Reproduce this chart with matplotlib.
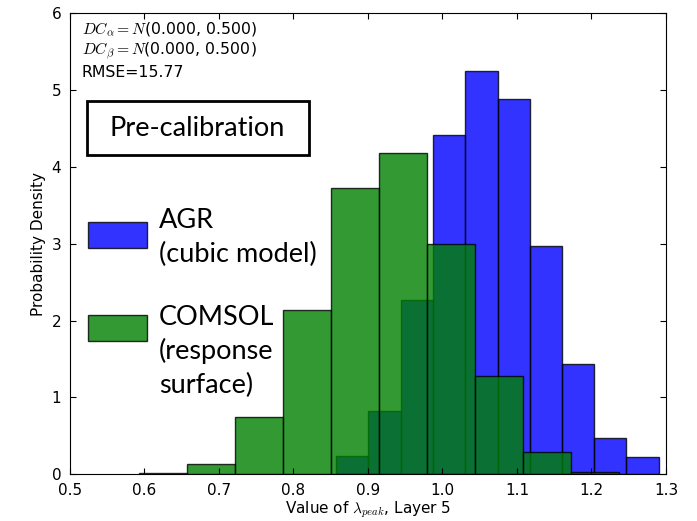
import numpy as np
import matplotlib
matplotlib.use("Agg")
import matplotlib.pyplot as plt
from matplotlib.patches import Rectangle

# Histogram bins (probability density) for lambda_peak, layer 5
agr_edges = [0.857, 0.900, 0.944, 0.987, 1.030, 1.074, 1.117, 1.160, 1.204, 1.247, 1.291]
agr_density = [0.238, 0.828, 2.268, 4.416, 5.249, 4.889, 2.975, 1.436, 0.469, 0.229]

comsol_edges = [0.593, 0.658, 0.722, 0.786, 0.851, 0.915, 0.980, 1.044, 1.108, 1.173, 1.237]
comsol_density = [0.013, 0.138, 0.750, 2.138, 3.722, 4.178, 2.998, 1.280, 0.286, 0.026]

x_ticks = [0.5, 0.6, 0.7, 0.8, 0.9, 1.0, 1.1, 1.2, 1.3]
y_ticks = [0, 1, 2, 3, 4, 5, 6]

stats_text = "$DC_\\alpha = N$(0.000, 0.500)\n$DC_\\beta = N$(0.000, 0.500)\nRMSE=15.77"
legend_labels = [["AGR", "(cubic model)"], ["COMSOL", "(response", "surface)"]]

plt.rcParams["mathtext.fontset"] = "cm"
plt.rcParams["xtick.direction"] = "in"
plt.rcParams["ytick.direction"] = "in"
plt.rcParams["xtick.top"] = True
plt.rcParams["ytick.right"] = True

fig = plt.figure(figsize=(6.97, 5.21), dpi=100)
ax = fig.add_axes([0.100, 0.0896, 0.8555, 0.8848])

ax.bar(agr_edges[:-1], agr_density, width=np.diff(agr_edges), align="edge",
       color="b", edgecolor="k", alpha=0.8, linewidth=1.0)
ax.bar(comsol_edges[:-1], comsol_density, width=np.diff(comsol_edges), align="edge",
       color="g", edgecolor="k", alpha=0.8, linewidth=1.0)

ax.set_xlim(0.5, 1.3)
ax.set_ylim(0, 6)
ax.set_xticks(x_ticks)
ax.set_yticks(y_ticks)
ax.tick_params(labelsize=11, length=4, pad=6)
ax.set_xlabel("Value of $\\lambda_{peak}$, Layer 5", fontsize=11, labelpad=1)
ax.set_ylabel("Probability Density", fontsize=11)

ax.text(0.02, 0.985, stats_text, transform=ax.transAxes, va="top", ha="left",
        fontsize=11.3, linespacing=1.22)

# Annotation box and hand-made legend
ax.add_patch(Rectangle((0.0285, 0.6926), 0.3728, 0.1172, transform=ax.transAxes,
                       fill=False, edgecolor="k", linewidth=2, zorder=5))
ax.text(0.2135, 0.751, "Pre-calibration", transform=ax.transAxes, ha="center",
        va="center", fontsize=19.5, family="Lato", zorder=5)

swatch_colors = ["b", "g"]
swatch_bottoms = [0.490, 0.289]
first_baselines = [0.5336, 0.3239]
line_step = 0.0740
for color, bottom, base, lines in zip(swatch_colors, swatch_bottoms,
                                      first_baselines, legend_labels):
    ax.add_patch(Rectangle((0.0312, bottom), 0.0979, 0.057, transform=ax.transAxes,
                           facecolor=color, edgecolor="k", alpha=0.8, linewidth=1.0))
    for i, line in enumerate(lines):
        ax.text(0.1498, base - i * line_step, line, transform=ax.transAxes,
                ha="left", va="baseline", fontsize=19.5, family="Lato")

fig.savefig("out.png", dpi=100)
